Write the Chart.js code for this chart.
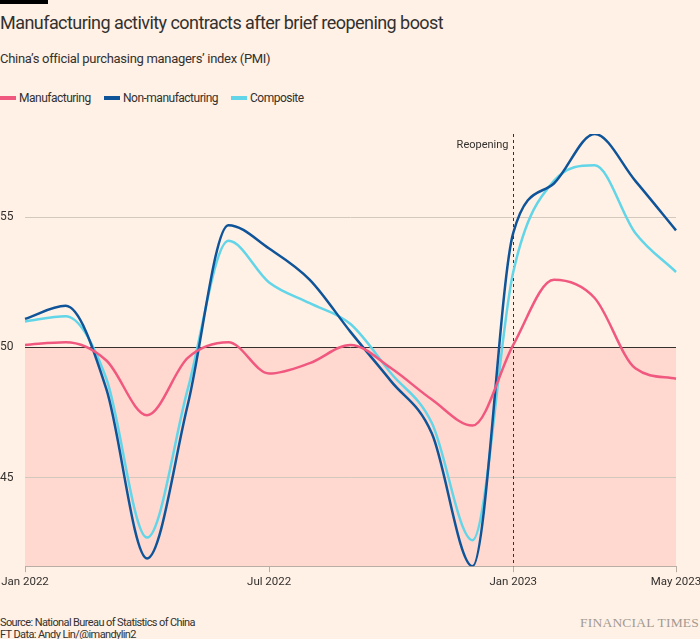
<!DOCTYPE html>
<html>
<head>
<meta charset="utf-8">
<script src="https://cdn.jsdelivr.net/npm/chart.js@4"></script>
<style>
  html, body { margin:0; padding:0; background:#FFF1E5; }
  body { width:700px; height:639px; position:relative; overflow:hidden; font-family: Roboto, "Open Sans", sans-serif; color:#33302E; }
  .bar { position:absolute; left:0; top:0; width:48px; height:4px; background:#000; }
  .title { position:absolute; left:0; top:12px; font-size:18px; letter-spacing:-0.55px; white-space:nowrap; line-height:22px; }
  .sub { position:absolute; left:0; top:51px; font-size:13px; letter-spacing:-0.3px; white-space:nowrap; line-height:16px; }
  .legend { position:absolute; left:0; top:90px; height:16px; font-size:12px; letter-spacing:-0.5px; line-height:16px; white-space:nowrap; }
  .legend span.item { position:absolute; top:0; }
  .legend i { position:absolute; top:6px; width:16px; height:4px; }
  .src { position:absolute; left:0; top:617px; font-size:11px; letter-spacing:-0.6px; line-height:12px; color:#33302E; white-space:nowrap; }
  .ft { position:absolute; right:1px; top:615px; font-family:"Liberation Serif", serif; font-size:13.5px; color:#A39A92; letter-spacing:0.2px; }
  #wrap { position:absolute; left:0; top:134px; width:700px; height:458px; }
</style>
</head>
<body>
<div class="bar"></div>
<div class="title">Manufacturing activity contracts after brief reopening boost</div>
<div class="sub">China’s official purchasing managers’ index (PMI)</div>
<div class="legend" id="legend"></div>
<div id="wrap"><canvas id="c"></canvas></div>
<div class="src">Source: National Bureau of Statistics of China<br>FT Data: Andy Lin/@imandylin2</div>
<div class="ft">FINANCIAL TIMES</div>
<script>
const months = ['Jan 2022','Feb 2022','Mar 2022','Apr 2022','May 2022','Jun 2022','Jul 2022','Aug 2022','Sep 2022','Oct 2022','Nov 2022','Dec 2022','Jan 2023','Feb 2023','Mar 2023','Apr 2023','May 2023'];
const manufacturing    = [50.1,50.2,49.5,47.4,49.6,50.2,49.0,49.4,50.1,49.2,48.0,47.0,50.1,52.6,51.9,49.2,48.8];
const nonManufacturing = [51.1,51.6,48.4,41.9,47.8,54.7,53.8,52.6,50.6,48.7,46.7,41.6,54.4,56.3,58.2,56.4,54.5];
const composite        = [51.0,51.2,48.8,42.7,48.4,54.1,52.5,51.7,50.9,49.0,47.1,42.6,52.9,56.4,57.0,54.4,52.9];
const seriesNames = ['Manufacturing','Non-manufacturing','Composite'];
const seriesColors = ['#F0587F','#0F5499','#62D5E8'];
const shownXTicks = ['Jan 2022','Jul 2022','Jan 2023','May 2023'];
const yTicks = [45, 50, 55];
const threshold = 50;
const eventLabel = 'Reopening';
const eventMonth = 'Jan 2023';

const FONT = 'Roboto, "Open Sans", sans-serif';

// HTML legend
const legendPos = [0, 104, 231];
const legend = document.getElementById('legend');
seriesNames.forEach((n, i) => {
  const it = document.createElement('span');
  it.className = 'item';
  it.style.left = legendPos[i] + 'px';
  it.innerHTML = '<i style="left:0;background:' + seriesColors[i] + '"></i><span style="margin-left:19px">' + n + '</span>';
  legend.appendChild(it);
});

const contractionFill = {
  id: 'contractionFill',
  beforeDraw(chart) {
    const {ctx, chartArea:a, scales:{y}} = chart;
    const y50 = y.getPixelForValue(threshold);
    ctx.save();
    ctx.fillStyle = '#FFD9CF';
    ctx.fillRect(a.left, y50, a.right - a.left, a.bottom - y50);
    ctx.restore();
  }
};
const eventLine = {
  id: 'eventLine',
  beforeDatasetsDraw(chart) {
    const {ctx, chartArea:a, scales:{x}} = chart;
    const px = Math.round(x.getPixelForValue(months.indexOf(eventMonth))) + 0.5;
    ctx.save();
    ctx.strokeStyle = '#33302E';
    ctx.lineWidth = 1;
    ctx.setLineDash([3, 3]);
    ctx.beginPath();
    ctx.moveTo(px, a.top);
    ctx.lineTo(px, a.bottom);
    ctx.stroke();
    ctx.setLineDash([]);
    ctx.fillStyle = '#33302E';
    ctx.font = '11px ' + FONT;
    ctx.textAlign = 'right';
    ctx.textBaseline = 'middle';
    ctx.fillText(eventLabel, px - 5, a.top + 11);
    ctx.restore();
  }
};

new Chart(document.getElementById('c'), {
  type: 'line',
  data: {
    labels: months,
    datasets: [
      { label: seriesNames[0], data: manufacturing, borderColor: seriesColors[0], backgroundColor: seriesColors[0] },
      { label: seriesNames[1], data: nonManufacturing, borderColor: seriesColors[1], backgroundColor: seriesColors[1] },
      { label: seriesNames[2], data: composite, borderColor: seriesColors[2], backgroundColor: seriesColors[2] }
    ]
  },
  options: {
    responsive: true,
    maintainAspectRatio: false,
    animation: false,
    layout: { padding: 0 },
    elements: {
      line: { borderWidth: 2.5, cubicInterpolationMode: 'monotone', fill: false },
      point: { radius: 0, hoverRadius: 0 }
    },
    plugins: {
      tooltip: { enabled: false },
      legend: { display: false }
    },
    scales: {
      x: {
        type: 'category',
        border: { color: '#B8AEA5', width: 1 },
        afterFit: (s) => { s.paddingRight = 24; s.paddingLeft = 0; },
        grid: {
          drawOnChartArea: false, drawTicks: true, tickLength: 6,
          color: (c) => shownXTicks.includes(months[c.index]) ? '#B8AEA5' : 'rgba(0,0,0,0)'
        },
        ticks: {
          autoSkip: false, maxRotation: 0, padding: 3, color: '#33302E',
          font: { family: FONT, size: 11.5 },
          callback: (v, i) => shownXTicks.includes(months[i]) ? months[i] : ''
        }
      },
      y: {
        min: 41.6, max: 58.2,
        border: { display: false },
        afterBuildTicks: (s) => { s.ticks = yTicks.map(v => ({ value: v })); },
        afterFit: (s) => { s.width = 25; s.paddingTop = 0; s.paddingBottom = 0; },
        grid: {
          drawTicks: false,
          color: (c) => c.tick && c.tick.value === threshold ? '#33302E' : '#D3C8BD',
          lineWidth: 1
        },
        ticks: {
          crossAlign: 'far', padding: 0, color: '#33302E',
          font: { family: FONT, size: 12 }
        }
      }
    }
  },
  plugins: [contractionFill, eventLine]
});
</script>
</body>
</html>
